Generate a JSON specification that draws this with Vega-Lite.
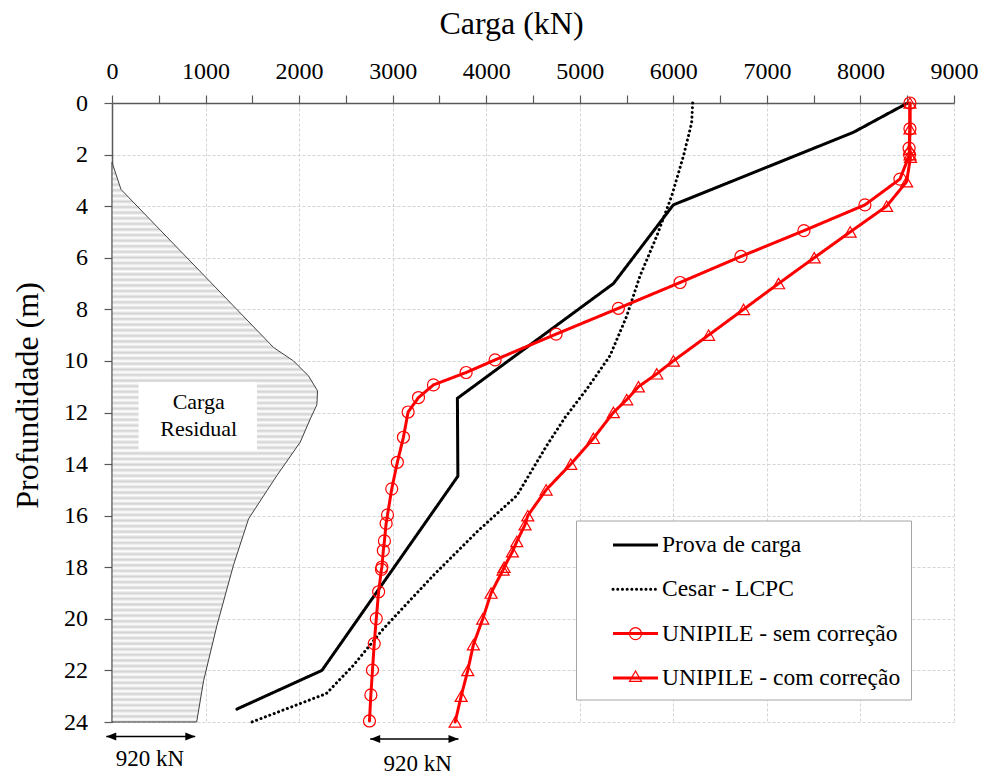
{
  "$schema": "https://vega.github.io/schema/vega-lite/v6.json",
  "width": 842,
  "height": 619,
  "autosize": "none",
  "padding": {"left": 112, "top": 103, "right": 28, "bottom": 53},
  "background": "white",
  "config": {"view": {"stroke": null}, "font": "Liberation Serif"},
  "datasets": {
    "residual": [
      {"c": 0, "p": 2.3}, {"c": 96, "p": 3.35}, {"c": 1727, "p": 9.48}, {"c": 1940, "p": 10.0},
      {"c": 2100, "p": 10.58}, {"c": 2197, "p": 11.16}, {"c": 2190, "p": 11.7}, {"c": 2119, "p": 12.25},
      {"c": 2012, "p": 13.15}, {"c": 1763, "p": 14.44}, {"c": 1460, "p": 16.12}, {"c": 1300, "p": 17.9},
      {"c": 1122, "p": 20.25}, {"c": 979, "p": 22.4}, {"c": 905, "p": 24}
    ],
    "curves": [
      {"s": "Prova de carga", "c": 8504, "p": 0}, {"s": "Prova de carga", "c": 7923, "p": 1.14},
      {"s": "Prova de carga", "c": 6000, "p": 3.95}, {"s": "Prova de carga", "c": 5360, "p": 7},
      {"s": "Prova de carga", "c": 3692, "p": 11.45}, {"s": "Prova de carga", "c": 3697, "p": 14.47},
      {"s": "Prova de carga", "c": 2244, "p": 22}, {"s": "Prova de carga", "c": 1335, "p": 23.5},
      {"s": "Cesar - LCPC", "c": 6207, "p": 0}, {"s": "Cesar - LCPC", "c": 6196, "p": 0.77},
      {"s": "Cesar - LCPC", "c": 6107, "p": 2.07}, {"s": "Cesar - LCPC", "c": 5983, "p": 3.6},
      {"s": "Cesar - LCPC", "c": 5823, "p": 5.16}, {"s": "Cesar - LCPC", "c": 5644, "p": 6.7},
      {"s": "Cesar - LCPC", "c": 5502, "p": 8.26}, {"s": "Cesar - LCPC", "c": 5323, "p": 9.8},
      {"s": "Cesar - LCPC", "c": 5075, "p": 11.09}, {"s": "Cesar - LCPC", "c": 4843, "p": 12.19},
      {"s": "Cesar - LCPC", "c": 4647, "p": 13.28}, {"s": "Cesar - LCPC", "c": 4327, "p": 15.22},
      {"s": "Cesar - LCPC", "c": 3900, "p": 16.63}, {"s": "Cesar - LCPC", "c": 3436, "p": 18.31},
      {"s": "Cesar - LCPC", "c": 2902, "p": 20.38}, {"s": "Cesar - LCPC", "c": 2581, "p": 21.8},
      {"s": "Cesar - LCPC", "c": 2290, "p": 22.9}, {"s": "Cesar - LCPC", "c": 1496, "p": 24},
      {"s": "UNIPILE - sem correção", "c": 8529, "p": 0}, {"s": "UNIPILE - sem correção", "c": 8529, "p": 1},
      {"s": "UNIPILE - sem correção", "c": 8520, "p": 1.75}, {"s": "UNIPILE - sem correção", "c": 8525, "p": 2},
      {"s": "UNIPILE - sem correção", "c": 8422, "p": 2.95}, {"s": "UNIPILE - sem correção", "c": 8048, "p": 3.95},
      {"s": "UNIPILE - sem correção", "c": 7396, "p": 4.95}, {"s": "UNIPILE - sem correção", "c": 6723, "p": 5.95},
      {"s": "UNIPILE - sem correção", "c": 6072, "p": 6.96}, {"s": "UNIPILE - sem correção", "c": 5413, "p": 7.96},
      {"s": "UNIPILE - sem correção", "c": 4747, "p": 8.96}, {"s": "UNIPILE - sem correção", "c": 4095, "p": 9.96},
      {"s": "UNIPILE - sem correção", "c": 3785, "p": 10.45}, {"s": "UNIPILE - sem correção", "c": 3436, "p": 10.93},
      {"s": "UNIPILE - sem correção", "c": 3276, "p": 11.42}, {"s": "UNIPILE - sem correção", "c": 3165, "p": 11.98},
      {"s": "UNIPILE - sem correção", "c": 3115, "p": 12.96}, {"s": "UNIPILE - sem correção", "c": 3050, "p": 13.93},
      {"s": "UNIPILE - sem correção", "c": 2990, "p": 14.96}, {"s": "UNIPILE - sem correção", "c": 2945, "p": 15.97},
      {"s": "UNIPILE - sem correção", "c": 2930, "p": 16.3}, {"s": "UNIPILE - sem correção", "c": 2912, "p": 16.98},
      {"s": "UNIPILE - sem correção", "c": 2900, "p": 17.35}, {"s": "UNIPILE - sem correção", "c": 2885, "p": 17.99},
      {"s": "UNIPILE - sem correção", "c": 2880, "p": 18.08}, {"s": "UNIPILE - sem correção", "c": 2850, "p": 18.95},
      {"s": "UNIPILE - sem correção", "c": 2825, "p": 19.99}, {"s": "UNIPILE - sem correção", "c": 2803, "p": 20.96},
      {"s": "UNIPILE - sem correção", "c": 2784, "p": 21.99}, {"s": "UNIPILE - sem correção", "c": 2767, "p": 22.95},
      {"s": "UNIPILE - sem correção", "c": 2752, "p": 23.96},
      {"s": "UNIPILE - com correção", "c": 8529, "p": 0}, {"s": "UNIPILE - com correção", "c": 8529, "p": 1},
      {"s": "UNIPILE - com correção", "c": 8525, "p": 1.8}, {"s": "UNIPILE - com correção", "c": 8530, "p": 2},
      {"s": "UNIPILE - com correção", "c": 8535, "p": 2.1}, {"s": "UNIPILE - com correção", "c": 8494, "p": 3.05},
      {"s": "UNIPILE - com correção", "c": 8280, "p": 4}, {"s": "UNIPILE - com correção", "c": 7890, "p": 5},
      {"s": "UNIPILE - com correção", "c": 7506, "p": 6}, {"s": "UNIPILE - com correção", "c": 7125, "p": 7},
      {"s": "UNIPILE - com correção", "c": 6751, "p": 8}, {"s": "UNIPILE - com correção", "c": 6377, "p": 9},
      {"s": "UNIPILE - com correção", "c": 6000, "p": 10}, {"s": "UNIPILE - com correção", "c": 5823, "p": 10.5},
      {"s": "UNIPILE - com correção", "c": 5627, "p": 11}, {"s": "UNIPILE - com correção", "c": 5502, "p": 11.5},
      {"s": "UNIPILE - com correção", "c": 5359, "p": 12}, {"s": "UNIPILE - com correção", "c": 5146, "p": 13},
      {"s": "UNIPILE - com correção", "c": 4904, "p": 14}, {"s": "UNIPILE - com correção", "c": 4640, "p": 15},
      {"s": "UNIPILE - com correção", "c": 4444, "p": 16}, {"s": "UNIPILE - com correção", "c": 4415, "p": 16.35},
      {"s": "UNIPILE - com correção", "c": 4327, "p": 17}, {"s": "UNIPILE - com correção", "c": 4280, "p": 17.4},
      {"s": "UNIPILE - com correção", "c": 4191, "p": 18}, {"s": "UNIPILE - com correção", "c": 4180, "p": 18.1},
      {"s": "UNIPILE - com correção", "c": 4052, "p": 19}, {"s": "UNIPILE - com correção", "c": 3963, "p": 20},
      {"s": "UNIPILE - com correção", "c": 3863, "p": 21}, {"s": "UNIPILE - com correção", "c": 3803, "p": 22},
      {"s": "UNIPILE - com correção", "c": 3732, "p": 23}, {"s": "UNIPILE - com correção", "c": 3668, "p": 24}
    ],
    "box": [{"c": 284, "c2": 1549, "p": 10.83, "p2": 13.48}],
    "boxtext": [{"c": 927, "p": 11.87, "t": "Carga"}, {"c": 927, "p": 12.9, "t": "Residual"}],
    "arrows": [{"c": -61, "c2": 890, "p": 24.56}, {"c": 2760, "c2": 3703, "p": 24.66}],
    "heads": [
      {"c": -8, "p": 24.56, "d": "l"}, {"c": 837, "p": 24.56, "d": "r"},
      {"c": 2813, "p": 24.66, "d": "l"}, {"c": 3650, "p": 24.66, "d": "r"}
    ],
    "arrowtext": [{"c": 405, "p": 25.72, "t": "920 kN"}, {"c": 3268, "p": 25.9, "t": "920 kN"}]
  },
  "layer": [
    {
      "data": {"name": "residual"},
      "mark": {
        "type": "area", "orient": "horizontal", "stroke": "#404040", "strokeWidth": 1,
        "fill": {"gradient": "linear", "x1": 0, "y1": 0, "x2": 0, "y2": 1, "stops": [
          {"offset":0,"color":"#d2d2d2"},{"offset":0.005,"color":"#fff"},{"offset":0.01,"color":"#d2d2d2"},{"offset":0.015,"color":"#fff"},{"offset":0.02,"color":"#d2d2d2"},{"offset":0.025,"color":"#fff"},{"offset":0.03,"color":"#d2d2d2"},{"offset":0.035,"color":"#fff"},{"offset":0.04,"color":"#d2d2d2"},{"offset":0.045,"color":"#fff"},
          {"offset":0.05,"color":"#d2d2d2"},{"offset":0.055,"color":"#fff"},{"offset":0.06,"color":"#d2d2d2"},{"offset":0.065,"color":"#fff"},{"offset":0.07,"color":"#d2d2d2"},{"offset":0.075,"color":"#fff"},{"offset":0.08,"color":"#d2d2d2"},{"offset":0.085,"color":"#fff"},{"offset":0.09,"color":"#d2d2d2"},{"offset":0.095,"color":"#fff"},
          {"offset":0.1,"color":"#d2d2d2"},{"offset":0.105,"color":"#fff"},{"offset":0.11,"color":"#d2d2d2"},{"offset":0.115,"color":"#fff"},{"offset":0.12,"color":"#d2d2d2"},{"offset":0.125,"color":"#fff"},{"offset":0.13,"color":"#d2d2d2"},{"offset":0.135,"color":"#fff"},{"offset":0.14,"color":"#d2d2d2"},{"offset":0.145,"color":"#fff"},
          {"offset":0.15,"color":"#d2d2d2"},{"offset":0.155,"color":"#fff"},{"offset":0.16,"color":"#d2d2d2"},{"offset":0.165,"color":"#fff"},{"offset":0.17,"color":"#d2d2d2"},{"offset":0.175,"color":"#fff"},{"offset":0.18,"color":"#d2d2d2"},{"offset":0.185,"color":"#fff"},{"offset":0.19,"color":"#d2d2d2"},{"offset":0.195,"color":"#fff"},
          {"offset":0.2,"color":"#d2d2d2"},{"offset":0.205,"color":"#fff"},{"offset":0.21,"color":"#d2d2d2"},{"offset":0.215,"color":"#fff"},{"offset":0.22,"color":"#d2d2d2"},{"offset":0.225,"color":"#fff"},{"offset":0.23,"color":"#d2d2d2"},{"offset":0.235,"color":"#fff"},{"offset":0.24,"color":"#d2d2d2"},{"offset":0.245,"color":"#fff"},
          {"offset":0.25,"color":"#d2d2d2"},{"offset":0.255,"color":"#fff"},{"offset":0.26,"color":"#d2d2d2"},{"offset":0.265,"color":"#fff"},{"offset":0.27,"color":"#d2d2d2"},{"offset":0.275,"color":"#fff"},{"offset":0.28,"color":"#d2d2d2"},{"offset":0.285,"color":"#fff"},{"offset":0.29,"color":"#d2d2d2"},{"offset":0.295,"color":"#fff"},
          {"offset":0.3,"color":"#d2d2d2"},{"offset":0.305,"color":"#fff"},{"offset":0.31,"color":"#d2d2d2"},{"offset":0.315,"color":"#fff"},{"offset":0.32,"color":"#d2d2d2"},{"offset":0.325,"color":"#fff"},{"offset":0.33,"color":"#d2d2d2"},{"offset":0.335,"color":"#fff"},{"offset":0.34,"color":"#d2d2d2"},{"offset":0.345,"color":"#fff"},
          {"offset":0.35,"color":"#d2d2d2"},{"offset":0.355,"color":"#fff"},{"offset":0.36,"color":"#d2d2d2"},{"offset":0.365,"color":"#fff"},{"offset":0.37,"color":"#d2d2d2"},{"offset":0.375,"color":"#fff"},{"offset":0.38,"color":"#d2d2d2"},{"offset":0.385,"color":"#fff"},{"offset":0.39,"color":"#d2d2d2"},{"offset":0.395,"color":"#fff"},
          {"offset":0.4,"color":"#d2d2d2"},{"offset":0.405,"color":"#fff"},{"offset":0.41,"color":"#d2d2d2"},{"offset":0.415,"color":"#fff"},{"offset":0.42,"color":"#d2d2d2"},{"offset":0.425,"color":"#fff"},{"offset":0.43,"color":"#d2d2d2"},{"offset":0.435,"color":"#fff"},{"offset":0.44,"color":"#d2d2d2"},{"offset":0.445,"color":"#fff"},
          {"offset":0.45,"color":"#d2d2d2"},{"offset":0.455,"color":"#fff"},{"offset":0.46,"color":"#d2d2d2"},{"offset":0.465,"color":"#fff"},{"offset":0.47,"color":"#d2d2d2"},{"offset":0.475,"color":"#fff"},{"offset":0.48,"color":"#d2d2d2"},{"offset":0.485,"color":"#fff"},{"offset":0.49,"color":"#d2d2d2"},{"offset":0.495,"color":"#fff"},
          {"offset":0.5,"color":"#d2d2d2"},{"offset":0.505,"color":"#fff"},{"offset":0.51,"color":"#d2d2d2"},{"offset":0.515,"color":"#fff"},{"offset":0.52,"color":"#d2d2d2"},{"offset":0.525,"color":"#fff"},{"offset":0.53,"color":"#d2d2d2"},{"offset":0.535,"color":"#fff"},{"offset":0.54,"color":"#d2d2d2"},{"offset":0.545,"color":"#fff"},
          {"offset":0.55,"color":"#d2d2d2"},{"offset":0.555,"color":"#fff"},{"offset":0.56,"color":"#d2d2d2"},{"offset":0.565,"color":"#fff"},{"offset":0.57,"color":"#d2d2d2"},{"offset":0.575,"color":"#fff"},{"offset":0.58,"color":"#d2d2d2"},{"offset":0.585,"color":"#fff"},{"offset":0.59,"color":"#d2d2d2"},{"offset":0.595,"color":"#fff"},
          {"offset":0.6,"color":"#d2d2d2"},{"offset":0.605,"color":"#fff"},{"offset":0.61,"color":"#d2d2d2"},{"offset":0.615,"color":"#fff"},{"offset":0.62,"color":"#d2d2d2"},{"offset":0.625,"color":"#fff"},{"offset":0.63,"color":"#d2d2d2"},{"offset":0.635,"color":"#fff"},{"offset":0.64,"color":"#d2d2d2"},{"offset":0.645,"color":"#fff"},
          {"offset":0.65,"color":"#d2d2d2"},{"offset":0.655,"color":"#fff"},{"offset":0.66,"color":"#d2d2d2"},{"offset":0.665,"color":"#fff"},{"offset":0.67,"color":"#d2d2d2"},{"offset":0.675,"color":"#fff"},{"offset":0.68,"color":"#d2d2d2"},{"offset":0.685,"color":"#fff"},{"offset":0.69,"color":"#d2d2d2"},{"offset":0.695,"color":"#fff"},
          {"offset":0.7,"color":"#d2d2d2"},{"offset":0.705,"color":"#fff"},{"offset":0.71,"color":"#d2d2d2"},{"offset":0.715,"color":"#fff"},{"offset":0.72,"color":"#d2d2d2"},{"offset":0.725,"color":"#fff"},{"offset":0.73,"color":"#d2d2d2"},{"offset":0.735,"color":"#fff"},{"offset":0.74,"color":"#d2d2d2"},{"offset":0.745,"color":"#fff"},
          {"offset":0.75,"color":"#d2d2d2"},{"offset":0.755,"color":"#fff"},{"offset":0.76,"color":"#d2d2d2"},{"offset":0.765,"color":"#fff"},{"offset":0.77,"color":"#d2d2d2"},{"offset":0.775,"color":"#fff"},{"offset":0.78,"color":"#d2d2d2"},{"offset":0.785,"color":"#fff"},{"offset":0.79,"color":"#d2d2d2"},{"offset":0.795,"color":"#fff"},
          {"offset":0.8,"color":"#d2d2d2"},{"offset":0.805,"color":"#fff"},{"offset":0.81,"color":"#d2d2d2"},{"offset":0.815,"color":"#fff"},{"offset":0.82,"color":"#d2d2d2"},{"offset":0.825,"color":"#fff"},{"offset":0.83,"color":"#d2d2d2"},{"offset":0.835,"color":"#fff"},{"offset":0.84,"color":"#d2d2d2"},{"offset":0.845,"color":"#fff"},
          {"offset":0.85,"color":"#d2d2d2"},{"offset":0.855,"color":"#fff"},{"offset":0.86,"color":"#d2d2d2"},{"offset":0.865,"color":"#fff"},{"offset":0.87,"color":"#d2d2d2"},{"offset":0.875,"color":"#fff"},{"offset":0.88,"color":"#d2d2d2"},{"offset":0.885,"color":"#fff"},{"offset":0.89,"color":"#d2d2d2"},{"offset":0.895,"color":"#fff"},
          {"offset":0.9,"color":"#d2d2d2"},{"offset":0.905,"color":"#fff"},{"offset":0.91,"color":"#d2d2d2"},{"offset":0.915,"color":"#fff"},{"offset":0.92,"color":"#d2d2d2"},{"offset":0.925,"color":"#fff"},{"offset":0.93,"color":"#d2d2d2"},{"offset":0.935,"color":"#fff"},{"offset":0.94,"color":"#d2d2d2"},{"offset":0.945,"color":"#fff"},
          {"offset":0.95,"color":"#d2d2d2"},{"offset":0.955,"color":"#fff"},{"offset":0.96,"color":"#d2d2d2"},{"offset":0.965,"color":"#fff"},{"offset":0.97,"color":"#d2d2d2"},{"offset":0.975,"color":"#fff"},{"offset":0.98,"color":"#d2d2d2"},{"offset":0.985,"color":"#fff"},{"offset":0.99,"color":"#d2d2d2"},{"offset":0.995,"color":"#fff"},
          {"offset":1,"color":"#d2d2d2"}
        ]}
      },
      "encoding": {
        "x": {
          "field": "c", "type": "quantitative", "stack": null,
          "scale": {"domain": [0, 9000], "nice": false, "zero": false},
          "axis": {
            "orient": "top", "title": "Carga (kN)", "titleFont": "Liberation Serif", "titleFontSize": 32,
            "titleFontWeight": "normal", "titleColor": "black", "titleX": 399, "titleY": -70,
            "titleBaseline": "alphabetic", "titleAlign": "center",
            "values": [0, 500, 1000, 1500, 2000, 2500, 3000, 3500, 4000, 4500, 5000, 5500, 6000, 6500, 7000, 7500, 8000, 8500, 9000],
            "format": "d", "labelExpr": "datum.value % 1000 === 0 ? datum.label : ''",
            "labelFont": "Liberation Serif", "labelFontSize": 24, "labelColor": "black", "labelPadding": 12,
            "labelOverlap": false, "labelFlush": false,
            "tickSize": 8, "tickColor": "#595959", "tickWidth": 1.2, "domainColor": "#595959", "domainWidth": 1.5,
            "grid": true, "gridColor": "#d4d4d4", "gridDash": [3, 2], "gridWidth": 1,
            "gridOpacity": {"condition": {"test": "datum.value % 1000 === 0 && datum.value > 0", "value": 1}, "value": 0},
            "zindex": 0
          }
        },
        "y": {
          "field": "p", "type": "quantitative",
          "scale": {"domain": [0, 24], "reverse": true, "nice": false, "zero": false},
          "axis": {
            "title": "Profundidade (m)", "titleFont": "Liberation Serif", "titleFontSize": 32,
            "titleFontWeight": "normal", "titleColor": "black", "titleX": -75, "titleY": 292,
            "titleAngle": 270, "titleBaseline": "alphabetic", "titleAlign": "center",
            "values": [0, 1, 2, 3, 4, 5, 6, 7, 8, 9, 10, 11, 12, 13, 14, 15, 16, 17, 18, 19, 20, 21, 22, 23, 24],
            "format": "d", "labelExpr": "datum.value % 2 === 0 ? datum.label : ''",
            "labelFont": "Liberation Serif", "labelFontSize": 24, "labelColor": "black", "labelPadding": 16.5,
            "labelOverlap": false, "labelFlush": false,
            "tickSize": 8, "tickColor": "#595959", "tickWidth": 1.2, "domainColor": "#595959", "domainWidth": 1.5,
            "grid": true, "gridColor": "#d4d4d4", "gridDash": [3, 2], "gridWidth": 1,
            "gridOpacity": {"condition": {"test": "datum.value % 2 === 0 && datum.value > 0", "value": 1}, "value": 0},
            "zindex": 0
          }
        }
      }
    },
    {
      "data": {"name": "box"},
      "mark": {"type": "rect", "fill": "white"},
      "encoding": {
        "x": {"field": "c", "type": "quantitative", "scale": {"domain": [0, 9000], "nice": false, "zero": false}},
        "x2": {"field": "c2"},
        "y": {"field": "p", "type": "quantitative", "scale": {"domain": [0, 24], "reverse": true, "nice": false, "zero": false}},
        "y2": {"field": "p2"}
      }
    },
    {
      "data": {"name": "boxtext"},
      "mark": {"type": "text", "font": "Liberation Serif", "fontSize": 22, "color": "black", "align": "center", "baseline": "alphabetic"},
      "encoding": {
        "x": {"field": "c", "type": "quantitative", "scale": {"domain": [0, 9000], "nice": false, "zero": false}},
        "y": {"field": "p", "type": "quantitative", "scale": {"domain": [0, 24], "reverse": true, "nice": false, "zero": false}},
        "text": {"field": "t"}
      }
    },
    {
      "data": {"name": "curves"},
      "mark": {"type": "line", "strokeWidth": 3, "strokeCap": "round"},
      "encoding": {
        "x": {"field": "c", "type": "quantitative", "scale": {"domain": [0, 9000], "nice": false, "zero": false}},
        "y": {"field": "p", "type": "quantitative", "scale": {"domain": [0, 24], "reverse": true, "nice": false, "zero": false}},
        "order": {"field": "p", "type": "quantitative"},
        "color": {
          "field": "s", "type": "nominal",
          "scale": {"domain": ["Prova de carga", "Cesar - LCPC", "UNIPILE - sem correção", "UNIPILE - com correção"], "range": ["black", "black", "#ff0000", "#ff0000"]},
          "legend": {
            "orient": "none", "legendX": 464, "legendY": 417.5, "title": null, "direction": "vertical",
            "padding": 10, "strokeColor": "#a6a6a6", "fillColor": "white",
            "symbolType": "M-1.73,0H1.73", "symbolSize": 676, "symbolStrokeWidth": 3,
            "symbolOffset": 35, "labelOffset": 12, "rowPadding": 18.3,
            "labelFont": "Liberation Serif", "labelFontSize": 23.5, "labelColor": "black", "labelLimit": 500,
            "labelExpr": "datum.label + '        '",
            "encode": {"symbols": {"update": {
              "strokeDash": {"signal": "datum.value === 'Cesar - LCPC' ? [0.1, 4] : [1, 0]"},
              "strokeCap": {"signal": "datum.value === 'Cesar - LCPC' ? 'round' : 'butt'"}
            }}}
          }
        },
        "strokeDash": {
          "field": "s", "type": "nominal", "legend": null,
          "scale": {"domain": ["Prova de carga", "Cesar - LCPC", "UNIPILE - sem correção", "UNIPILE - com correção"], "range": [[1, 0], [0.1, 4.6], [1, 0], [1, 0]]}
        }
      }
    },
    {
      "data": {"name": "curves"},
      "transform": [{"filter": "indexof(datum.s, 'UNIPILE') === 0"}],
      "mark": {"type": "point", "filled": false, "color": "#ff0000", "strokeWidth": 1.2, "size": 144, "opacity": 1},
      "encoding": {
        "x": {"field": "c", "type": "quantitative", "scale": {"domain": [0, 9000], "nice": false, "zero": false}},
        "y": {"field": "p", "type": "quantitative", "scale": {"domain": [0, 24], "reverse": true, "nice": false, "zero": false}},
        "shape": {
          "field": "s", "type": "nominal",
          "scale": {"domain": ["UNIPILE - sem correção", "UNIPILE - com correção"], "range": ["circle", "triangle-up"]},
          "legend": {
            "orient": "none", "legendX": 464, "legendY": 513.7, "title": null, "direction": "vertical",
            "padding": 10, "symbolSize": 144, "symbolStrokeWidth": 1.2, "symbolStrokeColor": "#ff0000",
            "symbolFillColor": "transparent", "symbolOffset": 42.5, "rowPadding": 25.5,
            "labelFontSize": 1, "labelExpr": "''"
          }
        }
      }
    },
    {
      "data": {"name": "arrows"},
      "mark": {"type": "rule", "color": "black", "strokeWidth": 1.5},
      "encoding": {
        "x": {"field": "c", "type": "quantitative", "scale": {"domain": [0, 9000], "nice": false, "zero": false}},
        "x2": {"field": "c2"},
        "y": {"field": "p", "type": "quantitative", "scale": {"domain": [0, 24], "reverse": true, "nice": false, "zero": false}}
      }
    },
    {
      "data": {"name": "heads"},
      "mark": {"type": "point", "filled": true, "color": "black", "size": 100, "opacity": 1},
      "encoding": {
        "x": {"field": "c", "type": "quantitative", "scale": {"domain": [0, 9000], "nice": false, "zero": false}},
        "y": {"field": "p", "type": "quantitative", "scale": {"domain": [0, 24], "reverse": true, "nice": false, "zero": false}},
        "shape": {
          "field": "d", "type": "nominal", "legend": null,
          "scale": {"domain": ["l", "r"], "range": ["M-1,0L1,-0.8L1,0.8Z", "M1,0L-1,-0.8L-1,0.8Z"]}
        }
      }
    },
    {
      "data": {"name": "arrowtext"},
      "mark": {"type": "text", "font": "Liberation Serif", "fontSize": 23, "color": "black", "align": "center", "baseline": "alphabetic"},
      "encoding": {
        "x": {"field": "c", "type": "quantitative", "scale": {"domain": [0, 9000], "nice": false, "zero": false}},
        "y": {"field": "p", "type": "quantitative", "scale": {"domain": [0, 24], "reverse": true, "nice": false, "zero": false}},
        "text": {"field": "t"}
      }
    }
  ],
  "resolve": {"scale": {"shape": "independent"}}
}
